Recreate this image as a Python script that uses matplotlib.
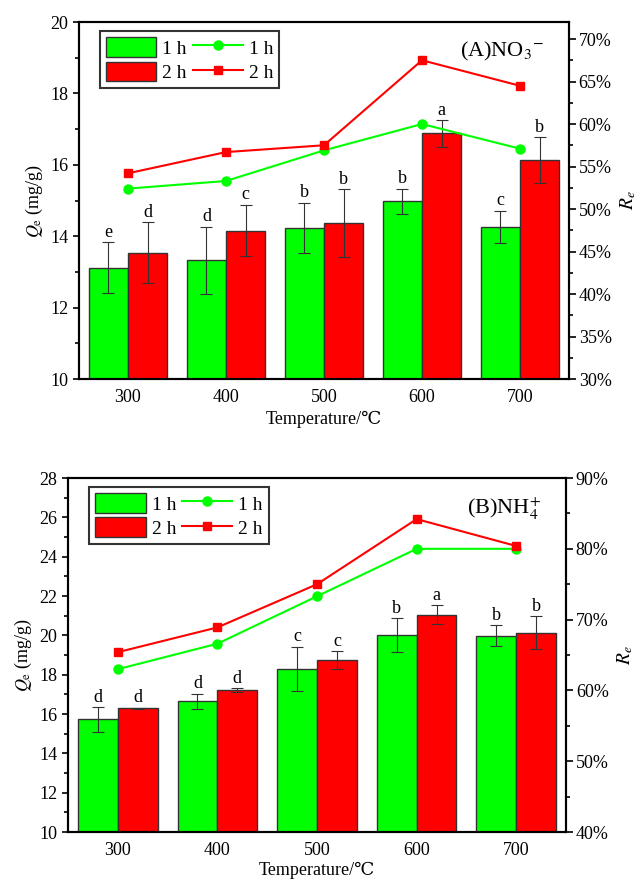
import numpy as np
import matplotlib
matplotlib.use("Agg")
import matplotlib.pyplot as plt
from matplotlib.patches import Patch
from matplotlib.lines import Line2D
from matplotlib.ticker import MultipleLocator, FuncFormatter

plt.rcParams['font.family'] = ['Liberation Serif', 'DejaVu Serif']
plt.rcParams['mathtext.fontset'] = 'stix'

# 温度 (℃)
temps = [300, 400, 500, 600, 700]

# (A) NO3- 数据
no3_qe_1h = [13.12, 13.32, 14.23, 14.98, 14.27]
no3_qe_1h_err = [0.72, 0.95, 0.71, 0.35, 0.45]
no3_qe_2h = [13.54, 14.16, 14.36, 16.88, 16.13]
no3_qe_2h_err = [0.85, 0.72, 0.95, 0.37, 0.64]
no3_re_1h = [52.4, 53.3, 56.9, 60.0, 57.1]
no3_re_2h = [54.2, 56.7, 57.5, 67.5, 64.5]
no3_letters_1h = ['e', 'd', 'b', 'b', 'c']
no3_letters_2h = ['d', 'c', 'b', 'a', 'b']

# (B) NH4+ 数据
nh4_qe_1h = [15.73, 16.64, 18.30, 20.00, 19.98]
nh4_qe_1h_err = [0.62, 0.40, 1.12, 0.87, 0.53]
nh4_qe_2h = [16.30, 17.20, 18.73, 21.05, 20.13]
nh4_qe_2h_err = [0.03, 0.10, 0.45, 0.49, 0.84]
nh4_re_1h = [63.0, 66.6, 73.3, 80.0, 80.0]
nh4_re_2h = [65.4, 68.9, 75.0, 84.2, 80.4]
nh4_letters_1h = ['d', 'd', 'c', 'b', 'b']
nh4_letters_2h = ['d', 'd', 'c', 'a', 'b']

GREEN = '#00ff00'
RED = '#ff0000'
BAR_W = 40


def draw_panel(ax, qe1, e1, qe2, e2, re1, re2, l1, l2, ylim, yticks, rlim, rmajor, rminor,
               title, xpad):
    x = np.array(temps)
    ekw = dict(ecolor='#333333', elinewidth=0.8, capsize=4, capthick=0.8)
    ax.bar(x - BAR_W / 2, qe1, BAR_W, yerr=e1, color=GREEN, edgecolor='#333333',
           linewidth=1.0, error_kw=ekw, zorder=2)
    ax.bar(x + BAR_W / 2, qe2, BAR_W, yerr=e2, color=RED, edgecolor='#333333',
           linewidth=1.0, error_kw=ekw, zorder=2)
    # 显著性字母
    for xi, v, e, s in zip(x - BAR_W / 2, qe1, e1, l1):
        ax.annotate(s, (xi, v + e), xytext=(0, 1), textcoords='offset points',
                    ha='center', va='bottom', fontsize=13)
    for xi, v, e, s in zip(x + BAR_W / 2, qe2, e2, l2):
        ax.annotate(s, (xi, v + e), xytext=(0, 1), textcoords='offset points',
                    ha='center', va='bottom', fontsize=13)

    ax.set_xlim(250, 750)
    ax.set_xticks(temps)
    ax.set_ylim(*ylim)
    ax.yaxis.set_major_locator(MultipleLocator(yticks))
    ax.yaxis.set_minor_locator(MultipleLocator(yticks / 2))
    ax.tick_params(axis='x', length=0, labelsize=13, pad=7)
    ax.tick_params(axis='y', which='major', direction='out', length=4, width=1.2, labelsize=13)
    ax.tick_params(axis='y', which='minor', direction='out', length=3, width=1.2)
    ax.set_xlabel('Temperature/℃', fontsize=13, labelpad=xpad)
    ax.set_ylabel(r'$Q_{\mathrm{e}}$ (mg/g)', fontsize=13)
    for sp in ax.spines.values():
        sp.set_linewidth(1.5)

    ax2 = ax.twinx()
    ax2.plot(x, re1, color=GREEN, marker='o', markersize=6.5, linewidth=1.5, zorder=3)
    ax2.plot(x, re2, color=RED, marker='s', markersize=6, linewidth=1.5, zorder=3)
    ax2.set_ylim(*rlim)
    ax2.yaxis.set_major_locator(MultipleLocator(rmajor))
    ax2.yaxis.set_minor_locator(MultipleLocator(rminor))
    ax2.yaxis.set_major_formatter(FuncFormatter(lambda v, p: '%d%%' % round(v)))
    ax2.tick_params(axis='y', which='major', direction='out', length=5, width=1.2,
                    labelsize=13, pad=2)
    ax2.tick_params(axis='y', which='minor', direction='out', length=3, width=1.2)
    ax2.set_ylabel(r'$R_e$', fontsize=14, labelpad=5)
    for sp in ax2.spines.values():
        sp.set_linewidth(1.5)

    handles = [Patch(facecolor=GREEN, edgecolor='#333333'),
               Patch(facecolor=RED, edgecolor='#333333'),
               Line2D([], [], color=GREEN, marker='o', markersize=6.5, linewidth=1.5),
               Line2D([], [], color=RED, marker='s', markersize=6, linewidth=1.5)]
    leg = ax2.legend(handles, ['1 h', '2 h', '1 h', '2 h'], ncol=2, loc='upper left',
                     bbox_to_anchor=(0.035, 0.985), fontsize=14, frameon=True, fancybox=False,
                     handlelength=2.6, handleheight=1.2, handletextpad=0.3, columnspacing=0.3,
                     labelspacing=0.2, borderpad=0.3, borderaxespad=0.2)
    leg.get_frame().set_edgecolor('black')
    leg.get_frame().set_linewidth(1.5)

    ax2.text(0.95, 0.95, title, transform=ax2.transAxes, ha='right', va='top', fontsize=16)
    return ax2


fig = plt.figure(figsize=(6.38, 8.81), dpi=100)
ax_a = fig.add_axes([0.1238, 0.5698, 0.768, 0.4052])
ax_b = fig.add_axes([0.1066, 0.0556, 0.7806, 0.4018])

draw_panel(ax_a, no3_qe_1h, no3_qe_1h_err, no3_qe_2h, no3_qe_2h_err, no3_re_1h, no3_re_2h,
           no3_letters_1h, no3_letters_2h, (10, 20), 2, (30, 72), 5, 2.5,
           r'(A)NO$_3$$^{-}$', 4)
draw_panel(ax_b, nh4_qe_1h, nh4_qe_1h_err, nh4_qe_2h, nh4_qe_2h_err, nh4_re_1h, nh4_re_2h,
           nh4_letters_1h, nh4_letters_2h, (10, 28), 2, (40, 90), 10, 5,
           r'(B)NH$_4^{+}$', 2)

fig.savefig('out.png', dpi=100)
